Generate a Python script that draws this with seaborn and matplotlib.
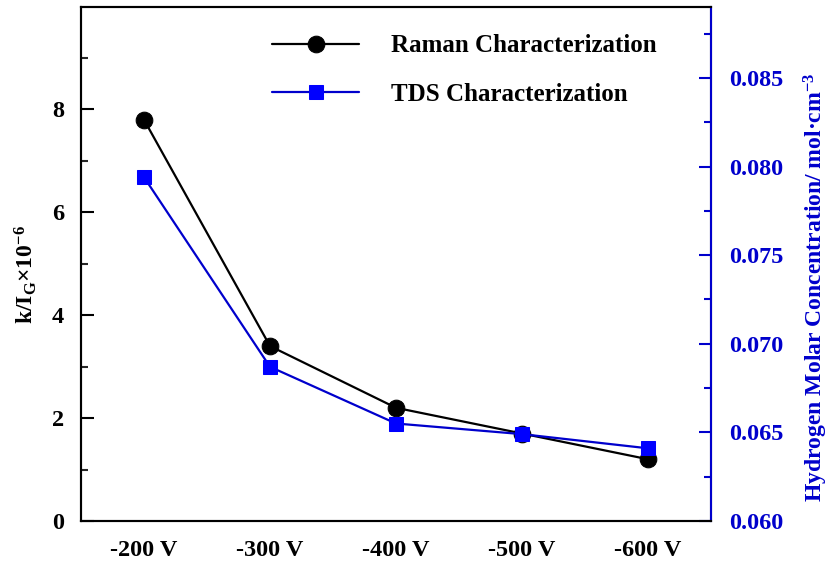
import matplotlib
matplotlib.use("Agg")
import matplotlib.pyplot as plt
from matplotlib.ticker import MultipleLocator, FormatStrFormatter
import seaborn as sns
import pandas as pd

# Bias voltages and the two hydrogen-content measures
voltages = ["-200 V", "-300 V", "-400 V", "-500 V", "-600 V"]
raman_k_ig = [7.8, 3.4, 2.2, 1.7, 1.2]
tds_conc = [0.0794, 0.0687, 0.0655, 0.0649, 0.0641]

sns.set_theme(style="white")
plt.rcParams["font.family"] = ["Liberation Serif", "DejaVu Serif"]
plt.rcParams["font.weight"] = "bold"
plt.rcParams["text.color"] = "black"
plt.rcParams["axes.labelcolor"] = "black"
plt.rcParams["mathtext.fontset"] = "custom"
plt.rcParams["mathtext.rm"] = "Liberation Serif:bold"
plt.rcParams["mathtext.it"] = "Liberation Serif:bold"
plt.rcParams["mathtext.bf"] = "Liberation Serif:bold"
plt.rcParams["mathtext.default"] = "rm"

df = pd.DataFrame({"voltage": voltages, "raman": raman_k_ig, "tds": tds_conc})

fig = plt.figure(figsize=(8.34, 5.62), dpi=100)
ax = fig.add_axes([0.0971, 0.073, 0.7554, 0.9145])
ax2 = ax.twinx()

navy = "#0000cc"
blue = "#0000ff"
tick_fs = 17.5

sns.lineplot(data=df, x="voltage", y="raman", ax=ax, color="black", marker="o",
             markersize=12, markeredgecolor="black", linewidth=1.6, sort=False,
             label="Raman Characterization", legend=False)
sns.lineplot(data=df, x="voltage", y="tds", ax=ax2, color=navy, marker="s",
             markersize=10, markerfacecolor=blue, markeredgecolor=blue,
             linewidth=1.6, sort=False, label="TDS Characterization", legend=False)

ax.set_xlim(-0.5, 4.5)
ax.set_ylim(0, 9.99)
ax2.set_ylim(0.060, 0.089)

ax.yaxis.set_major_locator(MultipleLocator(2))
ax.yaxis.set_minor_locator(MultipleLocator(1))
ax2.yaxis.set_major_locator(MultipleLocator(0.005))
ax2.yaxis.set_minor_locator(MultipleLocator(0.0025))
ax2.yaxis.set_major_formatter(FormatStrFormatter("%.3f"))

ax.set_xlabel("")
ax.set_ylabel(r"k/I$_\mathrm{G}$×10$^{-6}$", fontsize=17, fontweight="bold",
              color="black", va="center")
ax.yaxis.set_label_coords(-0.087, 0.479)
ax2.set_ylabel(r"Hydrogen Molar Concentration/ mol·cm$^{-3}$", fontsize=17,
               fontweight="bold", color=navy, rotation=90, va="center")
ax2.yaxis.set_label_coords(1.166, 0.455)

for a in (ax, ax2):
    for s in a.spines.values():
        s.set_linewidth(1.5)
        s.set_color("black")
ax2.spines["right"].set_color(navy)

ax.tick_params(axis="both", which="major", direction="in", length=9, width=1.5,
               labelsize=tick_fs, colors="black", pad=12, top=False)
ax.tick_params(axis="y", which="minor", direction="in", length=5, width=1.5, left=True)
ax.tick_params(axis="x", which="major", pad=14)
ax2.tick_params(axis="y", which="major", direction="in", length=9, width=1.5,
                labelsize=tick_fs, colors=navy, pad=13)
ax2.tick_params(axis="y", which="minor", direction="in", length=5, width=1.5,
                colors=navy, right=True)
for lab in ax.get_xticklabels() + ax.get_yticklabels() + ax2.get_yticklabels():
    lab.set_fontweight("bold")
for lab in ax2.get_yticklabels():
    lab.set_color(navy)

h1, l1 = ax.get_legend_handles_labels()
h2, l2 = ax2.get_legend_handles_labels()
leg = ax2.legend(h1 + h2, l1 + l2, loc="upper left", bbox_to_anchor=(0.303, 0.947),
                 frameon=False, borderpad=0, borderaxespad=0, handlelength=3.5,
                 handletextpad=1.28, labelspacing=1.02, labelcolor="black",
                 prop={"weight": "bold", "size": 18, "family": "Liberation Serif"})

fig.savefig("out.png", dpi=100)
